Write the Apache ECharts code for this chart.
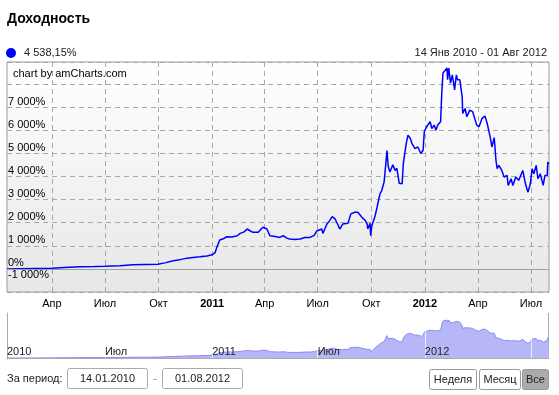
<!DOCTYPE html>
<html><head><meta charset="utf-8">
<script src="https://cdn.jsdelivr.net/npm/echarts@6/dist/echarts.min.js"></script>
<style>html,body{margin:0;padding:0;background:#fff}#c{width:559px;height:395px}</style>
</head><body><div id="c"></div>
<script>
const dates = ['2010-01-14','2010-02-05','2010-03-03','2010-04-01','2010-04-23','2010-05-19','2010-06-14','2010-07-01','2010-07-27','2010-08-18','2010-09-08','2010-09-30','2010-10-12','2010-10-26','2010-11-07','2010-11-19','2010-12-03','2010-12-11','2010-12-23','2011-01-01','2011-01-06','2011-01-09','2011-01-14','2011-01-20','2011-01-26','2011-02-04','2011-02-13','2011-02-18','2011-02-25','2011-03-02','2011-03-07','2011-03-12','2011-03-21','2011-03-29','2011-04-05','2011-04-10','2011-04-19','2011-04-27','2011-05-03','2011-05-09','2011-05-14','2011-05-23','2011-06-01','2011-06-09','2011-06-18','2011-06-25','2011-06-30','2011-07-08','2011-07-10','2011-07-17','2011-07-22','2011-07-26','2011-07-31','2011-08-05','2011-08-08','2011-08-13','2011-08-22','2011-08-27','2011-09-03','2011-09-08','2011-09-15','2011-09-20','2011-09-24','2011-09-25','2011-09-29','2011-09-30','2011-10-02','2011-10-07','2011-10-11','2011-10-16','2011-10-19','2011-10-23','2011-10-26','2011-10-28','2011-10-30','2011-11-02','2011-11-07','2011-11-11','2011-11-14','2011-11-18','2011-11-23','2011-11-25','2011-11-30','2011-12-03','2011-12-07','2011-12-10','2011-12-15','2011-12-20','2011-12-25','2011-12-29','2011-12-31','2012-01-04','2012-01-10','2012-01-13','2012-01-17','2012-01-20','2012-01-23','2012-01-28','2012-01-30','2012-02-01','2012-02-04','2012-02-08','2012-02-09','2012-02-11','2012-02-14','2012-02-17','2012-02-19','2012-02-21','2012-02-24','2012-02-26','2012-03-01','2012-03-05','2012-03-06','2012-03-10','2012-03-13','2012-03-18','2012-03-23','2012-03-30','2012-04-03','2012-04-08','2012-04-13','2012-04-17','2012-04-22','2012-04-25','2012-04-29','2012-05-02','2012-05-04','2012-05-07','2012-05-12','2012-05-16','2012-05-21','2012-05-23','2012-05-28','2012-05-31','2012-06-05','2012-06-10','2012-06-17','2012-06-21','2012-06-24','2012-06-26','2012-06-30','2012-07-03','2012-07-06','2012-07-10','2012-07-13','2012-07-17','2012-07-22','2012-07-25','2012-07-29','2012-07-30','2012-08-01'];
const values = [0,10,20,30,60,90,100,115,140,175,190,200,260,350,400,465,500,520,560,610,700,930,1250,1300,1390,1380,1435,1535,1600,1725,1650,1580,1580,1800,1725,1435,1400,1360,1435,1330,1290,1270,1290,1360,1360,1450,1650,1725,1535,1940,2100,2260,2160,1900,1725,1940,1970,2380,2450,2450,2230,2115,1940,1725,1970,1435,1870,2230,2665,3250,3390,3755,4550,5120,4450,4190,4500,4260,4350,3700,3680,4550,5420,5785,5640,5420,5200,5275,4990,5130,5930,6150,6365,6075,6220,6000,6220,6365,7600,8470,8540,8690,8180,8690,8035,8395,8100,7740,8395,8180,8180,7450,6725,6940,6580,6870,6800,6220,6150,6510,6610,6290,5710,5275,5680,4700,4335,4480,4260,3970,4045,3610,3900,3610,3970,3830,4260,3755,3465,3320,3680,4335,4115,4480,3900,4115,3610,4045,4045,4620,4538.15];
const xTickDates = ['2010-04-01','2010-07-01','2010-10-01','2011-01-01','2011-04-01','2011-07-01','2011-10-01','2012-01-01','2012-04-01','2012-07-01'];
const xTickLabels = ['Апр','Июл','Окт','2011','Апр','Июл','Окт','2012','Апр','Июл'];
const navLabelDates = ['2010-01-14','2010-07-01','2011-01-01','2011-07-01','2012-01-01'];
const navLabels = ['2010','Июл','2011','Июл','2012'];
const navGridDates = ['2010-07-01','2011-01-01','2011-07-01','2012-01-01','2012-07-01'];
const xStart = '2010-01-14', xEnd = '2012-08-01';
const yMin = -1000, yMax = 8950, yStep = 1000;
const hiddenYLabels = [8000];
const titleText = 'Доходность';
const legendText = '4 538,15%';
const rangeText = '14 Янв 2010 - 01 Авг 2012';
const creditText = 'chart by amCharts.com';
const periodLabel = 'За период:';
const periodFrom = '14.01.2010', periodTo = '01.08.2012';
const buttons = ['Неделя','Месяц','Все'];

const FONT = 'Liberation Sans';
const ts = s => Date.UTC(+s.slice(0,4), +s.slice(5,7)-1, +s.slice(8,10));
const xTickTs = xTickDates.map(ts);
const navLabelTs = navLabelDates.map(ts);
const navGridTs = navGridDates.map(ts);
function fmtPct(v){
  const s = Math.abs(v).toString().replace(/\B(?=(\d{3})+(?!\d))/g,' ');
  return (v<0?'-':'') + s + '%';
}
const data = dates.map((d,i)=>[ts(d), values[i]]);

const chart = echarts.init(document.getElementById('c'), null, {renderer:'canvas'});
chart.setOption({
  animation:false,
  textStyle:{fontFamily:FONT},
  grid:[
    {left:7,right:10,top:62,height:230,show:true,borderColor:'#9a9a9a',borderWidth:1,
     backgroundColor:{type:'linear',x:0,y:0,x2:0,y2:1,colorStops:[{offset:0,color:'#ffffff'},{offset:1,color:'#e7e7e7'}]}},
    {left:7,right:10,top:313,height:46,show:false}
  ],
  xAxis:[
    {type:'value',gridIndex:0,min:ts(xStart),max:ts(xEnd),scale:true,
     axisLine:{show:false},
     axisTick:{show:true,length:4,lineStyle:{color:'#999'},customValues:xTickTs},
     axisLabel:{customValues:xTickTs,fontSize:11,color:'#000',margin:6,fontFamily:FONT,
       formatter:v=>{const i=xTickTs.indexOf(+v);const l=i>=0?xTickLabels[i]:'';return /^\d{4}$/.test(l)?'{b|'+l+'}':l;},
       rich:{b:{fontWeight:'bold',fontSize:11,color:'#000',fontFamily:FONT}}},
     splitLine:{show:true,lineStyle:{color:'#a8a8a8',type:[5,4],width:1}}},
    {type:'value',gridIndex:1,min:ts(xStart),max:ts(xEnd),scale:true,z:5,
     axisLine:{show:true,lineStyle:{color:'#aaa'}},
     axisTick:{show:false,customValues:navGridTs},
     axisLabel:{customValues:navLabelTs,inside:true,align:'left',margin:2,fontSize:11,color:'#222',fontFamily:FONT,
       formatter:v=>{const i=navLabelTs.indexOf(+v);return i>=0?navLabels[i]:'';}},
     splitLine:{show:true,lineStyle:{color:'rgba(255,255,255,0.7)',width:1}}}
  ],
  yAxis:[
    {type:'value',gridIndex:0,min:yMin,max:yMax,interval:yStep,
     axisLine:{show:false},axisTick:{show:false},
     axisLabel:{inside:true,align:'left',verticalAlign:'bottom',margin:1,fontSize:11,color:'#000',fontFamily:FONT,showMaxLabel:false,
       formatter:v=>{if(hiddenYLabels.includes(v)||v%yStep!==0)return '';if(v===yMin)return '{lo|'+fmtPct(v)+'}';return fmtPct(v);},
       rich:{lo:{padding:[0,0,12,0],fontSize:11,color:'#000',fontFamily:FONT}}},
     splitLine:{show:true,lineStyle:{color:'#a8a8a8',type:[5,4],width:1}}},
    {type:'value',gridIndex:1,min:-230,max:10300,
     axisLine:{show:true,lineStyle:{color:'#aaa'}},axisTick:{show:false},axisLabel:{show:false},splitLine:{show:false}}
  ],
  series:[
    {type:'line',xAxisIndex:0,yAxisIndex:0,data:data,showSymbol:false,symbol:'none',
     lineStyle:{color:'#0000ff',width:1.5},z:3,
     markLine:{silent:true,symbol:'none',label:{show:false},lineStyle:{color:'#a0a0a0',type:'solid',width:1},data:[{yAxis:0}]}},
    {type:'line',xAxisIndex:1,yAxisIndex:1,data:data,showSymbol:false,symbol:'none',
     lineStyle:{color:'#8c8cf0',width:1},areaStyle:{color:'#b7b7f7',opacity:1,origin:'start'},z:2}
  ],
  graphic:[
    {type:'text',left:7,top:12,style:{text:titleText,font:'bold 14px '+FONT,fill:'#000'}},
    {type:'circle',shape:{cx:11,cy:53,r:5},style:{fill:'#0000ff'}},
    {type:'text',left:24,top:47,style:{text:legendText,font:'11px '+FONT,fill:'#222'}},
    {type:'text',right:12,top:47,style:{text:rangeText,font:'11px '+FONT,fill:'#222'}},
    {type:'text',left:13,top:68,style:{text:creditText,font:'11px '+FONT,fill:'#000'}},
    {type:'line',shape:{x1:548.5,y1:313,x2:548.5,y2:359},style:{stroke:'#aaa',lineWidth:1}},
    {type:'text',left:7,top:373,style:{text:periodLabel,font:'11px '+FONT,fill:'#222'}},
    {type:'rect',shape:{x:67.5,y:368.5,width:80,height:20,r:2},style:{fill:'#fff',stroke:'#aaa',lineWidth:1}},
    {type:'text',x:107.5,y:378.5,style:{text:periodFrom,font:'11px '+FONT,fill:'#222',align:'center',verticalAlign:'middle'}},
    {type:'text',x:155,y:378.5,style:{text:'-',font:'11px '+FONT,fill:'#888',align:'center',verticalAlign:'middle'}},
    {type:'rect',shape:{x:162.5,y:368.5,width:80,height:20,r:2},style:{fill:'#fff',stroke:'#aaa',lineWidth:1}},
    {type:'text',x:202.5,y:378.5,style:{text:periodTo,font:'11px '+FONT,fill:'#222',align:'center',verticalAlign:'middle'}},
    {type:'rect',shape:{x:429.5,y:369.5,width:47,height:20,r:2},style:{fill:'#fff',stroke:'#999',lineWidth:1}},
    {type:'text',x:453,y:379.5,style:{text:buttons[0],font:'11px '+FONT,fill:'#222',align:'center',verticalAlign:'middle'}},
    {type:'rect',shape:{x:479.5,y:369.5,width:41,height:20,r:2},style:{fill:'#fff',stroke:'#999',lineWidth:1}},
    {type:'text',x:500,y:379.5,style:{text:buttons[1],font:'11px '+FONT,fill:'#222',align:'center',verticalAlign:'middle'}},
    {type:'rect',shape:{x:522.5,y:369.5,width:26,height:20,r:2},style:{fill:'#ababab',stroke:'#999',lineWidth:1}},
    {type:'text',x:535.5,y:379.5,style:{text:buttons[2],font:'11px '+FONT,fill:'#222',align:'center',verticalAlign:'middle'}}
  ]
});
</script></body></html>
